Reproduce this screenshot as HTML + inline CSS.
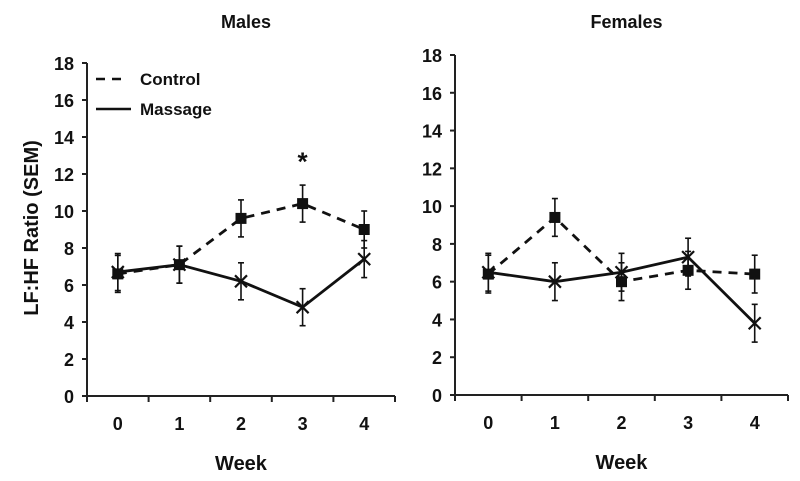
<!DOCTYPE html>
<html><head><meta charset="utf-8"><style>
body{margin:0;background:#fff}
svg text{font-family:"Liberation Sans",Arial,sans-serif;font-weight:bold;fill:#111}
</style></head><body>
<svg id="c" width="800" height="476" xmlns="http://www.w3.org/2000/svg"></svg>
<script>
const weeks=["0","1","2","3","4"];
const yTicks=[0,2,4,6,8,10,12,14,16,18];
const maleControl=[6.6,7.1,9.6,10.4,9.0];
const maleControlErr=[1.0,1.0,1.0,1.0,1.0];
const maleMassage=[6.7,7.1,6.2,4.8,7.4];
const maleMassageErr=[1.0,1.0,1.0,1.0,1.0];
const femaleControl=[6.4,9.4,6.0,6.6,6.4];
const femaleControlErr=[1.0,1.0,1.0,1.0,1.0];
const femaleMassage=[6.5,6.0,6.5,7.3,3.8];
const femaleMassageErr=[1.0,1.0,1.0,1.0,1.0];
const NS="http://www.w3.org/2000/svg";
const svg=document.getElementById('c');
function mk(t,a,p){const e=document.createElementNS(NS,t);for(const k in a)e.setAttribute(k,a[k]);(p||svg).appendChild(e);return e;}
function panel(name,title,x0,x1,y0,y18,ctl,ctlE,mas,masE){
  const g=mk('g',{});
  
  
  const bw=(x1-x0)/weeks.length;
  const X=i=>x0+bw*(i+0.5);
  const Y=v=>y0+(y18-y0)*v/18;
  mk('line',{x1:x0,y1:Y(0),x2:x0,y2:Y(18),stroke:'#222','stroke-width':2},g);
  mk('line',{x1:x0,y1:Y(0),x2:x1,y2:Y(0),stroke:'#222','stroke-width':2},g);
  yTicks.forEach(v=>{mk('line',{x1:x0-5,y1:Y(v),x2:x0,y2:Y(v),stroke:'#222','stroke-width':2},g);
    const t=mk('text',{x:x0-13,y:Y(v)+7,'text-anchor':'end','font-size':18},g);t.textContent=v;
    
    });
  for(let i=0;i<=weeks.length;i++)mk('line',{x1:x0+bw*i,y1:Y(0),x2:x0+bw*i,y2:Y(0)+6,stroke:'#222','stroke-width':2},g);
  weeks.forEach((w,i)=>{const t=mk('text',{x:X(i),y:Y(0)+34,'text-anchor':'middle','font-size':18},g);t.textContent=w;
    
    });
  const xt=mk('text',{x:(x0+x1)/2,y:Y(0)+74,'text-anchor':'middle','font-size':20},g);xt.textContent='Week';
  
  
  const tt=mk('text',{x:(x0+x1)/2+5,y:28,'text-anchor':'middle','font-size':18},g);tt.textContent=title;
  
  
  [[ctl,ctlE,'9,7','sq','control'],[mas,masE,null,'x','massage']].forEach(([d,e,dash,mkr,nm])=>{
    const pts=d.map((v,i)=>X(i)+','+Y(v)).join(' ');
    const a={points:pts,fill:'none',stroke:'#111','stroke-width':2.8};if(dash)a['stroke-dasharray']=dash;
    const l=mk('polyline',a,g);
    
    
    d.forEach((v,i)=>{const x=X(i);
      mk('line',{x1:x,y1:Y(v-e[i]),x2:x,y2:Y(v+e[i]),stroke:'#111','stroke-width':1.6},g);
      mk('line',{x1:x-3,y1:Y(v-e[i]),x2:x+3,y2:Y(v-e[i]),stroke:'#111','stroke-width':1.6},g);
      mk('line',{x1:x-3,y1:Y(v+e[i]),x2:x+3,y2:Y(v+e[i]),stroke:'#111','stroke-width':1.6},g);
      let m;
      if(mkr==='sq'){m=mk('rect',{x:x-5.5,y:Y(v)-5.5,width:11,height:11,fill:'#111'},g);}
      else{m=mk('path',{d:`M${x-6},${Y(v)-6}L${x+6},${Y(v)+6}M${x+6},${Y(v)-6}L${x-6},${Y(v)+6}`,stroke:'#111','stroke-width':2.2},g);}
      
      
    });
  });
  return {X,Y};
}
const L=panel('males-panel','Males',87,395,396,63,maleControl,maleControlErr,maleMassage,maleMassageErr);
panel('females-panel','Females',455,788,395,55,femaleControl,femaleControlErr,femaleMassage,femaleMassageErr);
const ast=mk('text',{x:L.X(3),y:L.Y(12.2),'text-anchor':'middle','font-size':26});ast.textContent='*';


const yt=mk('text',{x:0,y:0,transform:'translate(38,228) rotate(-90)','text-anchor':'middle','font-size':20});yt.textContent='LF:HF Ratio (SEM)';


const lg=mk('g',{});


mk('line',{x1:96,y1:79,x2:128,y2:79,stroke:'#111','stroke-width':2.5,'stroke-dasharray':'9,7'},lg);
mk('line',{x1:96,y1:109,x2:131,y2:109,stroke:'#111','stroke-width':2.5},lg);
const l1=mk('text',{x:140,y:85,'font-size':17},lg);l1.textContent='Control';


const l2=mk('text',{x:140,y:115,'font-size':17},lg);l2.textContent='Massage';


</script>
</body></html>
